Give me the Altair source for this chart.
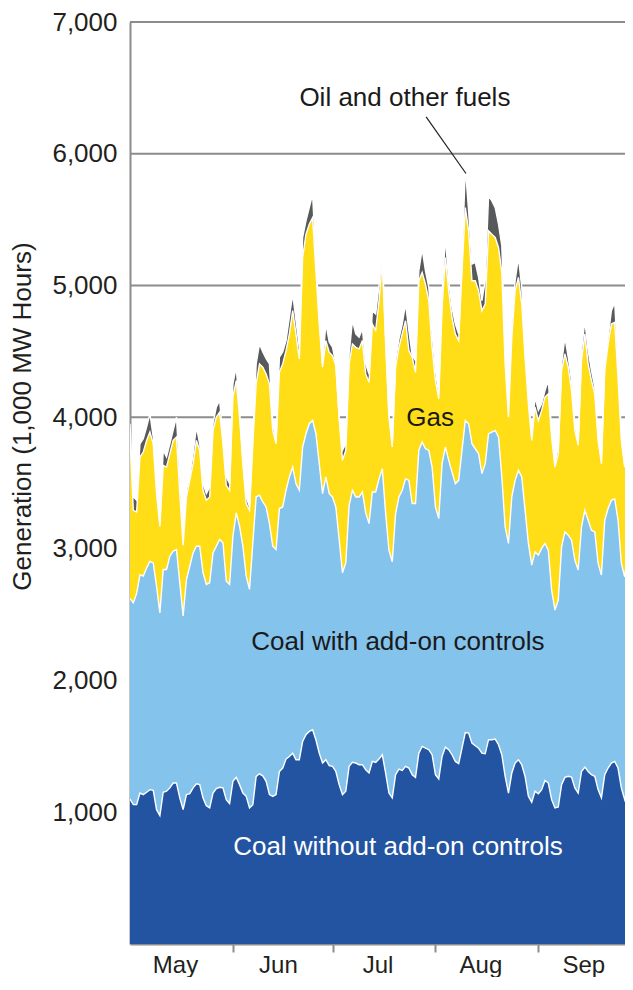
import altair as alt
import pandas as pd

# ---- data ----
months = ["May", "Jun", "Jul", "Aug", "Sep"]
month_start_day = [0, 31, 61, 92, 123]          # day index of the 1st of each month (day 0 = May 1)
y_ticks = [1000, 2000, 3000, 4000, 5000, 6000, 7000]
gridlines = [1000, 2000, 3000, 4000, 5000, 6000, 7000]

series_names = ["Coal without add-on controls", "Coal with add-on controls", "Gas", "Oil and other fuels"]
series_colors = ["#2354a2", "#84c3eb", "#ffdd17", "#58595b"]

# cumulative top of each layer, daily, May 1 .. Sep 29 (1,000 MWh)
coal_without_top = [
    1100, 1058, 1058, 1146, 1134, 1152, 1172, 1167, 1020, 975,
    1152, 1160, 1185, 1222, 1222, 1109, 1020, 1134, 1141, 1185,
    1217, 1210, 1109, 1050, 1033, 1146, 1180, 1190, 1185, 1096,
    1066, 1235, 1265, 1210, 1146, 1121, 1033, 1058, 1272, 1292,
    1277, 1235, 1134, 1121, 1134, 1310, 1336, 1404, 1424, 1449,
    1399, 1399, 1538, 1589, 1614, 1626, 1551, 1449, 1374, 1399,
    1354, 1349, 1310, 1210, 1134, 1160, 1349, 1379, 1374, 1361,
    1361, 1323, 1298, 1386, 1379, 1404, 1437, 1298, 1146, 1109,
    1285, 1328, 1318, 1349, 1336, 1285, 1265, 1449, 1500, 1487,
    1475, 1437, 1285, 1253, 1424, 1495, 1475, 1437, 1386, 1369,
    1487, 1606, 1601, 1525, 1505, 1487, 1449, 1444, 1551, 1551,
    1556, 1513, 1437, 1273, 1146, 1298, 1374, 1399, 1361, 1273,
    1121, 1076, 1160, 1141, 1172, 1242, 1222, 1096, 1033, 1040,
    1210, 1265, 1273, 1268, 1185, 1146, 1310, 1343, 1310, 1285,
    1273, 1172, 1109, 1285, 1336, 1374, 1386, 1336, 1185, 1096,
    1197, 1210,
]
coal_with_top = [
    2624, 2590, 2662, 2803, 2793, 2855, 2905, 2893, 2716, 2514,
    2843, 2843, 2944, 2982, 2995, 2742, 2490, 2767, 2868, 2969,
    3020, 3020, 2818, 2730, 2742, 2969, 3020, 3071, 3046, 2755,
    2730, 3096, 3273, 3172, 3020, 2793, 2692, 3046, 3394, 3407,
    3356, 3318, 3192, 3020, 2995, 3306, 3318, 3445, 3546, 3622,
    3495, 3445, 3773, 3874, 3950, 3975, 3874, 3647, 3419, 3546,
    3419, 3394, 3318, 3071, 2818, 2893, 3331, 3445, 3394, 3394,
    3432, 3273, 3192, 3432, 3432, 3530, 3609, 3268, 2990, 2902,
    3268, 3394, 3445, 3533, 3520, 3344, 3344, 3748, 3811, 3760,
    3748, 3621, 3318, 3230, 3647, 3773, 3672, 3583, 3495, 3520,
    3748, 3975, 3950, 3798, 3760, 3722, 3571, 3647, 3874, 3887,
    3899, 3849, 3546, 3167, 3041, 3394, 3520, 3596, 3546, 3293,
    3041, 2876, 2977, 2952, 3003, 3041, 2990, 2687, 2535, 2611,
    3015, 3129, 3104, 3066, 2914, 2839, 3167, 3293, 3217, 3142,
    3129, 2889, 2801, 3217, 3306, 3369, 3381, 3217, 2889, 2788,
    2990, 2977,
]
gas_top = [
    3850, 3293, 3281, 3697, 3735, 3823, 3887, 3798, 3419, 3170,
    3634, 3621, 3722, 3823, 3849, 3419, 3028, 3394, 3520, 3647,
    3823, 3748, 3445, 3369, 3394, 3899, 4000, 4038, 3798, 3482,
    3445, 4152, 4278, 4000, 3647, 3344, 3293, 3798, 4253, 4404,
    4379, 4328, 4253, 3899, 3798, 4341, 4404, 4505, 4631, 4808,
    4631, 4442, 5212, 5389, 5465, 5515, 5111, 4707, 4379, 4581,
    4493, 4467, 4392, 3988, 3672, 3748, 4404, 4556, 4530, 4518,
    4581, 4328, 4265, 4707, 4660, 4880, 5187, 4556, 4000, 3773,
    4379, 4530, 4631, 4732, 4505, 4455, 4341, 5035, 5099, 5010,
    4884, 4530, 4278, 4139, 4833, 5212, 4960, 4758, 4631, 4581,
    5111, 5591, 5414, 5035, 5035, 4960, 4808, 4859, 5414, 5389,
    5364, 5288, 5100, 4404, 4000, 4606, 4960, 5061, 4859, 4455,
    4101, 3823, 4076, 3975, 4051, 4152, 4177, 3849, 3621, 3722,
    4354, 4480, 4379, 4202, 3899, 3786, 4429, 4631, 4404, 4278,
    4177, 3823, 3647, 4354, 4556, 4707, 4720, 4303, 3823, 3621,
    4000, 3899,
]
total_top = [
    3950, 3394, 3369, 3798, 3836, 3924, 4025, 3849, 3495, 3192,
    3748, 3697, 3798, 3899, 4000, 3546, 3104, 3445, 3546, 3722,
    3924, 3798, 3495, 3419, 3470, 3950, 4076, 4126, 3849, 3546,
    3495, 4253, 4379, 4051, 3672, 3394, 3318, 3849, 4404, 4556,
    4494, 4444, 4404, 3950, 3823, 4455, 4494, 4582, 4760, 4935,
    4733, 4530, 5364, 5490, 5591, 5692, 5187, 4760, 4404, 4709,
    4570, 4531, 4404, 4000, 3748, 3798, 4480, 4733, 4632, 4606,
    4670, 4404, 4328, 4808, 4783, 5000, 5238, 4606, 4025, 3798,
    4429, 4593, 4707, 4859, 4657, 4467, 4429, 5111, 5275, 5111,
    4985, 4631, 4354, 4177, 4934, 5364, 5035, 4833, 4707, 4631,
    5162, 5894, 5566, 5162, 5175, 5061, 4884, 5035, 5680, 5642,
    5591, 5465, 5300, 4505, 4076, 4707, 5035, 5212, 4985, 4505,
    4177, 3849, 4152, 4051, 4101, 4202, 4278, 3899, 3647, 3773,
    4404, 4606, 4455, 4278, 3950, 3798, 4505, 4732, 4505, 4354,
    4227, 3849, 3670, 4404, 4606, 4808, 4871, 4404, 3874, 3647,
    4076, 3950,
]

# annotation labels placed in data coordinates (day index, value)
ann_labels = ["Oil and other fuels", "Gas", "Coal with add-on controls", "Coal without add-on controls"]
ann_day = [82.8, 90.4, 80.7, 80.7]
ann_value = [6420, 3990, 2290, 740]
ann_color = ["#1a1a1a", "#1a1a1a", "#1a1a1a", "#ffffff"]
leader = {"d1": 89.2, "v1": 6280, "d2": 101.2, "v2": 5850}

# ---- build tables ----
tops = [coal_without_top, coal_with_top, gas_top, total_top]
rows = []
for k, name in enumerate(series_names):
    for d in range(len(total_top)):
        low = 0 if k == 0 else tops[k - 1][d]
        rows.append({"series": name, "order": k, "day": d, "low": low, "high": tops[k][d]})
df = pd.DataFrame(rows)

FONT = "Liberation Sans"
GRAY = "#8c8c8c"
INK = "#231f20"

label_expr = ("[" + ",".join(f"'{m}'" for m in months) + "][indexof(["
              + ",".join(str(v) for v in month_start_day) + "], datum.value)]")

x_enc = alt.X("day:Q",
              scale=alt.Scale(domain=[0, 149.1], nice=False, zero=False),
              axis=alt.Axis(values=month_start_day, labelExpr=label_expr, title=None, grid=False,
                            labelOffset=45, labelFlush=False, tickSize=8, tickWidth=2, tickColor=GRAY,
                            tickOpacity={"condition": {"test": "datum.value === 0", "value": 0}, "value": 1},
                            domainColor=GRAY, domainWidth=2, labelFontSize=24, labelPadding=1,
                            labelColor=INK, labelFont=FONT))
y_scale = alt.Scale(domain=[0, 7000], nice=False)
y_axis = alt.Axis(values=y_ticks, format=",d", title="Generation (1,000 MW Hours)", grid=False,
                  ticks=False, labelPadding=13, labelFontSize=26, labelColor=INK,
                  labelFont=FONT, domainColor=GRAY, domainWidth=2,
                  titleFontSize=26, titleFontWeight="normal", titleColor=INK,
                  titleFont=FONT, titleX=-108, titleY=394, titleBaseline="middle",
                  titleAngle=270, titleAlign="center")

grid = alt.Chart(pd.DataFrame({"v": gridlines})).mark_rule(color=GRAY, strokeWidth=2).encode(
    y=alt.Y("v:Q", scale=y_scale, axis=y_axis)
)

areas = alt.Chart(df).mark_area(interpolate="linear", clip=True).encode(
    x=x_enc,
    y=alt.Y("high:Q", scale=y_scale, axis=y_axis),
    y2="low:Q",
    color=alt.Color("series:N", scale=alt.Scale(domain=series_names, range=series_colors), legend=None),
    detail="series:N",
)

lines = alt.Chart(df).mark_line(color="white", strokeWidth=1.4, interpolate="linear", clip=True).encode(
    x="day:Q", y="high:Q", detail="series:N"
)

ann_df = pd.DataFrame({"label": ann_labels, "day": ann_day, "value": ann_value, "color": ann_color})
texts = alt.Chart(ann_df).mark_text(fontSize=26, font=FONT, align="center", baseline="middle").encode(
    x="day:Q", y="value:Q", text="label:N", color=alt.Color("color:N", scale=None)
)

leader_line = alt.Chart(pd.DataFrame([leader])).mark_rule(color=INK, strokeWidth=1.2).encode(
    x="d1:Q", x2="d2:Q", y="v1:Q", y2="v2:Q"
)

chart = alt.layer(grid, areas, lines, leader_line, texts).properties(
    width=495, height=922,
    autosize=alt.AutoSizeParams(type="none"),
    padding={"left": 122, "top": 14, "right": 0, "bottom": 33},
).configure_view(fill="#e6e7e9", stroke=None).configure(font=FONT)

chart.save("out.html", embed_options={"renderer": "svg", "actions": False})
